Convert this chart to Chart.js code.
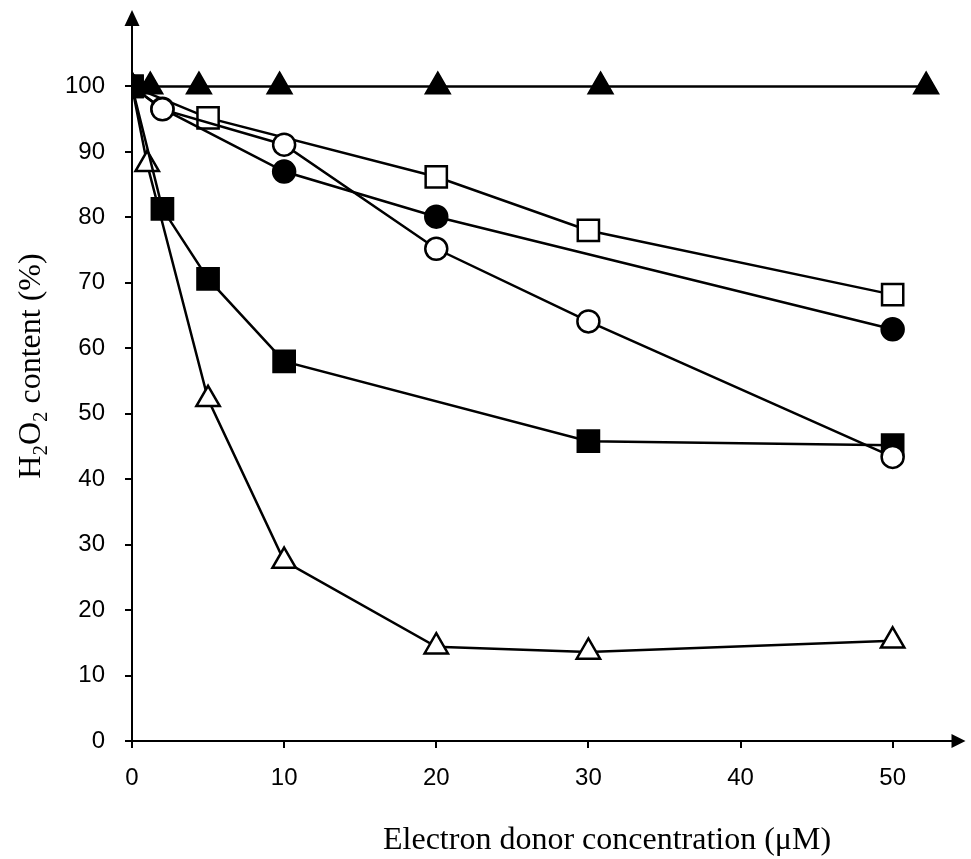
<!DOCTYPE html>
<html>
<head>
<meta charset="utf-8">
<script src="https://cdn.jsdelivr.net/npm/chart.js@4/dist/chart.umd.min.js"></script>
<style>
  body { margin: 0; background: #fff; }
  #wrap { width: 971px; height: 859px; position: relative; }
</style>
</head>
<body>
<div id="wrap"><canvas id="chartContainer"></canvas></div>
<script>
"use strict";

// 1: data
// x values of each series (µM) and the H2O2 content (%)
const filledTriangleX = [0, 1.2, 4.4, 9.7, 20.1, 30.8, 52.2];
const filledTriangleY = [100, 100, 100, 100, 100, 100, 100];

const openSquareX = [0, 5, 20, 30, 50];
const openSquareY = [100, 95.2, 86.2, 78.0, 68.2];

const filledCircleX = [0, 2, 10, 20, 50];
const filledCircleY = [100, 96.6, 87.0, 80.1, 62.9];

const openCircleX = [0, 2, 10, 20, 30, 50];
const openCircleY = [100, 96.5, 91.1, 75.2, 64.1, 43.4];

const filledSquareX = [0, 2, 5, 10, 30, 50];
const filledSquareY = [100, 81.3, 70.6, 58.0, 45.8, 45.2];

const openTriangleX = [0, 1, 5, 10, 20, 30, 50];
const openTriangleY = [100, 88.1, 52.2, 27.5, 14.4, 13.6, 15.3];

// tick labels
const xTicks = [0, 10, 20, 30, 40, 50];
const yTicks = [0, 10, 20, 30, 40, 50, 60, 70, 80, 90, 100];

const xTitle = "Electron donor concentration (\u03bcM)";

// 2: turn x/y arrays into {x, y} points (that's how a linear x scale wants them)
function toPoints(xs, ys) {
  let points = [];
  for (let i = 0; i < xs.length; i++) {
    points.push({ x: xs[i], y: ys[i] });
  }
  return points;
}

function series(label, xs, ys, shape, filled, radius) {
  return {
    label: label,
    data: toPoints(xs, ys),
    borderColor: "#000",
    borderWidth: 2.5,
    backgroundColor: "#000",
    pointStyle: shape,
    pointRadius: radius,
    pointBorderWidth: 2.5,
    pointBorderColor: "#000",
    pointBackgroundColor: filled ? "#000" : "#fff",
    tension: 0
  };
}

const serif = "'Liberation Serif', 'Times New Roman', serif";

// arrow heads at the ends of both axes + the axis titles (with subscripts)
const axisDecor = {
  id: "axisDecor",
  afterDraw(chart) {
    const ctx = chart.ctx;
    const a = chart.chartArea;
    ctx.save();
    ctx.fillStyle = "#000";
    // top arrow
    ctx.beginPath();
    ctx.moveTo(a.left - 7.5, a.top + 5);
    ctx.lineTo(a.left + 7.5, a.top + 5);
    ctx.lineTo(a.left, a.top - 11);
    ctx.closePath();
    ctx.fill();
    // right arrow
    ctx.beginPath();
    ctx.moveTo(a.right - 2, a.bottom - 7);
    ctx.lineTo(a.right - 2, a.bottom + 7);
    ctx.lineTo(a.right + 12, a.bottom);
    ctx.closePath();
    ctx.fill();

    // x title
    ctx.font = "32px " + serif;
    ctx.textAlign = "left";
    ctx.textBaseline = "alphabetic";
    ctx.fillText(xTitle, 383, 849);

    // y title: H2O2 content (%), rotated
    const parts = [["H", false], ["2", true], ["O", false], ["2", true], [" content (%)", false]];
    const big = "32px " + serif;
    const small = "21px " + serif;
    let total = 0;
    for (const p of parts) {
      ctx.font = p[1] ? small : big;
      total += ctx.measureText(p[0]).width;
    }
    ctx.translate(40, 366);
    ctx.rotate(-Math.PI / 2);
    ctx.textAlign = "left";
    let x = -total / 2;
    for (const p of parts) {
      ctx.font = p[1] ? small : big;
      ctx.fillText(p[0], x, p[1] ? 7 : 0);
      x += ctx.measureText(p[0]).width;
    }
    ctx.restore();
  }
};

// 3: create the chart
function appendChart() {
  const canvas = document.getElementById("chartContainer");
  const tickFont = { family: "'Liberation Sans', Arial, sans-serif", size: 24 };

  new Chart(canvas, {
    type: "line",
    data: {
      // first dataset is drawn on top
      datasets: [
        // open circle has no marker at 0 (the filled square sits there)
        Object.assign(series("open circle", openCircleX, openCircleY, "circle", false, 11),
          { pointRadius: (c) => (c.dataIndex === 0 ? 0 : 11) }),
        series("filled square", filledSquareX, filledSquareY, "rect", true, 15),
        series("filled triangle", filledTriangleX, filledTriangleY, "triangle", true, 13.5),
        series("filled circle", filledCircleX, filledCircleY, "circle", true, 11),
        series("open square", openSquareX, openSquareY, "rect", false, 15),
        series("open triangle", openTriangleX, openTriangleY, "triangle", false, 13.5)
      ]
    },
    options: {
      responsive: true,
      maintainAspectRatio: false,
      animation: false,
      layout: { padding: { left: 0, right: 12, top: 21, bottom: 0 } },
      plugins: {
        legend: { display: false },
        tooltip: { enabled: false }
      },
      scales: {
        x: {
          type: "linear",
          min: 0,
          max: 54,
          afterFit: (s) => { s.height = 118; s.paddingLeft = 0; s.paddingRight = 0; },
          afterBuildTicks: (s) => { s.ticks = xTicks.map((v) => ({ value: v })); },
          ticks: { color: "#000", font: tickFont, padding: 16, maxRotation: 0 },
          grid: { drawOnChartArea: false, tickLength: 7, color: "#000", lineWidth: 2 },
          border: { display: true, color: "#000", width: 2 }
        },
        y: {
          type: "linear",
          min: 0,
          max: 110,
          afterFit: (s) => { s.width = 132; s.paddingTop = 0; s.paddingBottom = 0; },
          afterBuildTicks: (s) => { s.ticks = yTicks.map((v) => ({ value: v })); },
          ticks: { color: "#000", font: tickFont, padding: 20 },
          grid: { drawOnChartArea: false, tickLength: 7, color: "#000", lineWidth: 2 },
          border: { display: true, color: "#000", width: 2 }
        }
      }
    },
    plugins: [axisDecor]
  });
}

appendChart();
</script>
</body>
</html>
